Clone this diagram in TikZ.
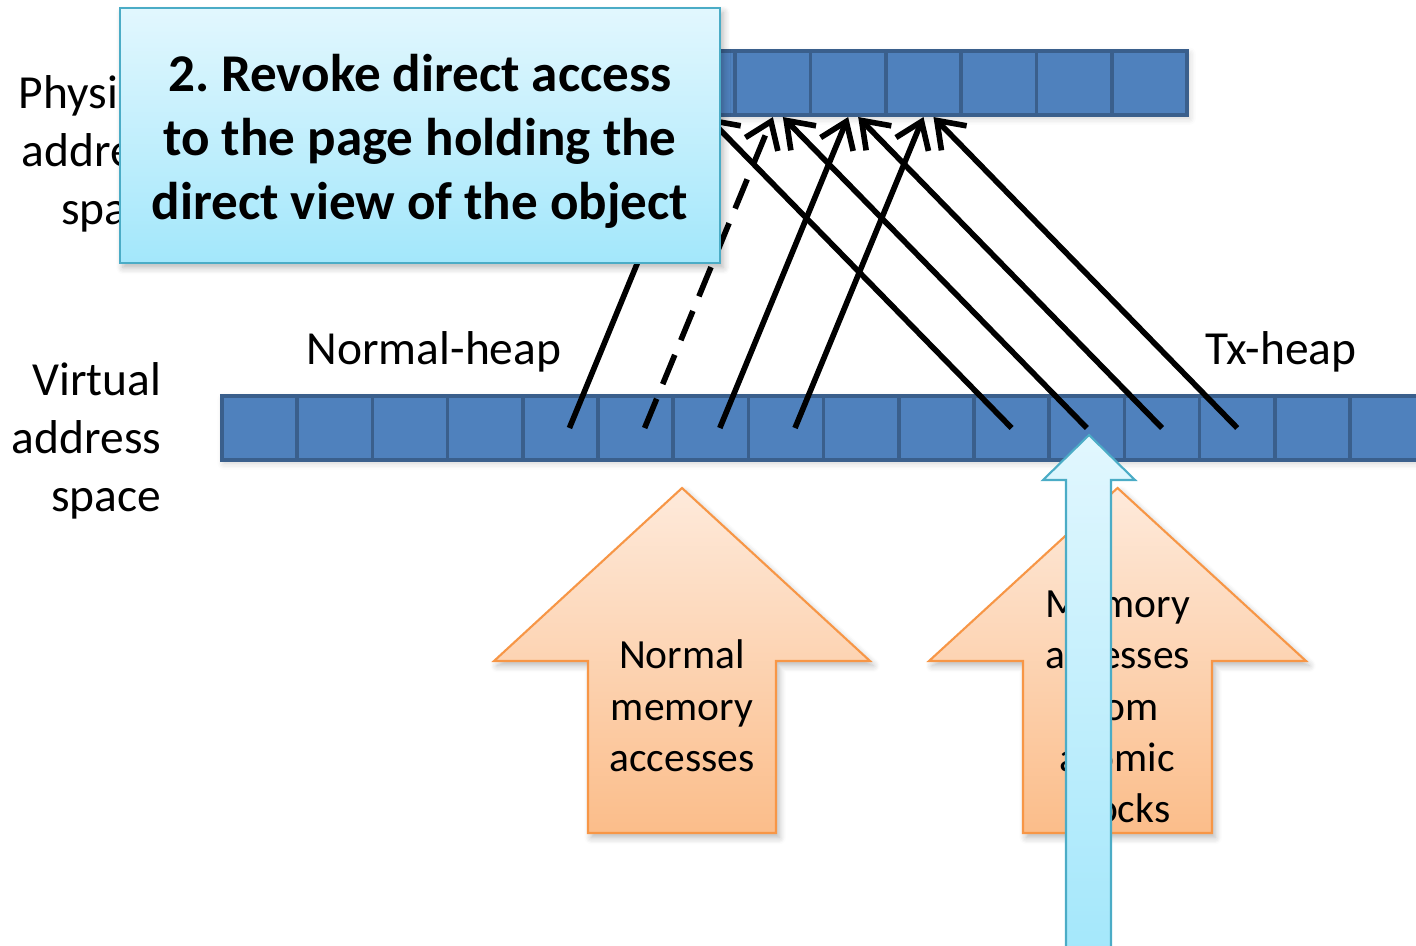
\documentclass[tikz,border=0pt]{standalone}
\usepackage{fontspec}
\setmainfont{Carlito}
\usetikzlibrary{arrows.meta,shadows.blur,calc}

\definecolor{cellfill}{HTML}{4F81BD}
\definecolor{cellline}{HTML}{3A5F8C}
\definecolor{noteline}{HTML}{4BACC6}
\definecolor{notetop}{HTML}{E2F7FE}
\definecolor{notebot}{HTML}{A3E7FB}
\definecolor{peachtop}{HTML}{FEEADB}
\definecolor{peachbot}{HTML}{FBBD8A}
\definecolor{peachline}{HTML}{F79646}

\tikzset{
  cell/.style={draw=cellline, fill=cellfill, line width=1pt,
    minimum width=0.752cm, minimum height=0.64cm, inner sep=0pt, outer sep=0pt},
  link/.style={line width=1.6pt, -{Straight Barb[length=7pt,width=10pt]}},
  softshadow/.style={blur shadow={shadow xshift=0.9pt, shadow yshift=-1.3pt,
    shadow blur steps=6, shadow opacity=28}},
  barshadow/.style={blur shadow={shadow xshift=0.6pt, shadow yshift=-0.9pt,
    shadow blur steps=5, shadow opacity=20}},
  sidelabel/.style={font=\fontsize{13.5}{16.5}\selectfont, align=right, inner sep=0pt},
  heaplabel/.style={font=\fontsize{13.5}{16.5}\selectfont, inner sep=0pt},
  notebox/.style={top color=notetop, bottom color=notebot, draw=noteline,
    line width=0.6pt, minimum width=6cm, minimum height=2.55cm, softshadow},
  notetext/.style={font=\bfseries\fontsize{15.1}{18.2}\selectfont, align=center, inner sep=0pt},
  bigarrow/.style={top color=peachtop, bottom color=peachbot, draw=peachline,
    line width=0.6pt, softshadow},
  arrowtext/.style={font=\fontsize{11.8}{14.6}\selectfont, align=center, inner sep=0pt},
  uparrow/.style={top color=notetop, bottom color=notebot, draw=noteline, line width=0.6pt},
}

\begin{document}
\frenchspacing
\begin{tikzpicture}[x=0.01cm, y=-0.01cm]
  \useasboundingbox (0,0) rectangle (1416,945);
  \clip (0,0) rectangle (1416,945);

  % physical address space: row of pages
  \fill[barshadow, white] (584.6,51) rectangle (1187,115);
  \foreach \k in {0,...,7}
    \node[cell] (p\k) at ({622.25+75.3*\k}, 83) {};

  \node[sidelabel, anchor=east] (phys) at (172,154) {Physical\\address\\space};
  \node[sidelabel, anchor=east] (virt) at (162,441) {Virtual\\address\\space};
  \node[heaplabel] (nheap) at (434,352) {Normal-heap};
  \node[heaplabel] (txheap) at (1281,352) {Tx-heap};

  % virtual address space: row of pages
  \fill[barshadow, white] (222,396) rectangle (1430,460);
  \foreach \k in {0,...,15}
    \node[cell] (v\k) at ({259.6+75.2*\k}, 428) {};

  % mappings from the normal heap
  \draw[link] ([xshift=0.09cm]v4.center) -- ([yshift=-0.02cm]p1.south);
  \draw[link, dash pattern=on 9pt off 4.5pt] ([xshift=0.09cm]v5.center) -- ([yshift=-0.02cm]p2.south);
  \draw[link] ([xshift=0.09cm]v6.center) -- ([yshift=-0.02cm]p3.south);
  \draw[link] ([xshift=0.09cm]v7.center) -- ([yshift=-0.02cm]p4.south);

  % mappings from the transactional heap
  \draw[link] (v10.center) -- ([xshift=0.1cm, yshift=-0.02cm]p1.south);
  \draw[link] (v11.center) -- ([xshift=0.1cm, yshift=-0.02cm]p2.south);
  \draw[link] (v12.center) -- ([xshift=0.1cm, yshift=-0.02cm]p3.south);
  \draw[link] (v13.center) -- ([xshift=0.1cm, yshift=-0.02cm]p4.south);

  % step note
  \node[notebox] (note) at (420,135.5) {};
  \node[notetext] (notetxt) at (420,141)
    {2. Revoke direct access\\to the page holding the\\direct view of the object};

  % block arrows for the two kinds of accesses
  \shade[bigarrow] (682,488) -- (870,661) -- (776,661) -- (776,833)
    -- (588,833) -- (588,661) -- (494,661) -- cycle;
  \node[arrowtext] (normacc) at (682,706) {Normal\\memory\\accesses};

  \shade[bigarrow] (1117.5,488) -- (1306,661) -- (1212,661) -- (1212,833)
    -- (1023,833) -- (1023,661) -- (929,661) -- cycle;
  \node[arrowtext] (atomacc) at (1117.5,707) {Memory\\accesses\\from\\atomic\\blocks};

  % access redirected onto the virtual page
  \shade[uparrow] (1089,435) -- (1135,480) -- (1111,480) -- (1111,960)
    -- (1066,960) -- (1066,480) -- (1043,480) -- cycle;
\end{tikzpicture}
\end{document}
